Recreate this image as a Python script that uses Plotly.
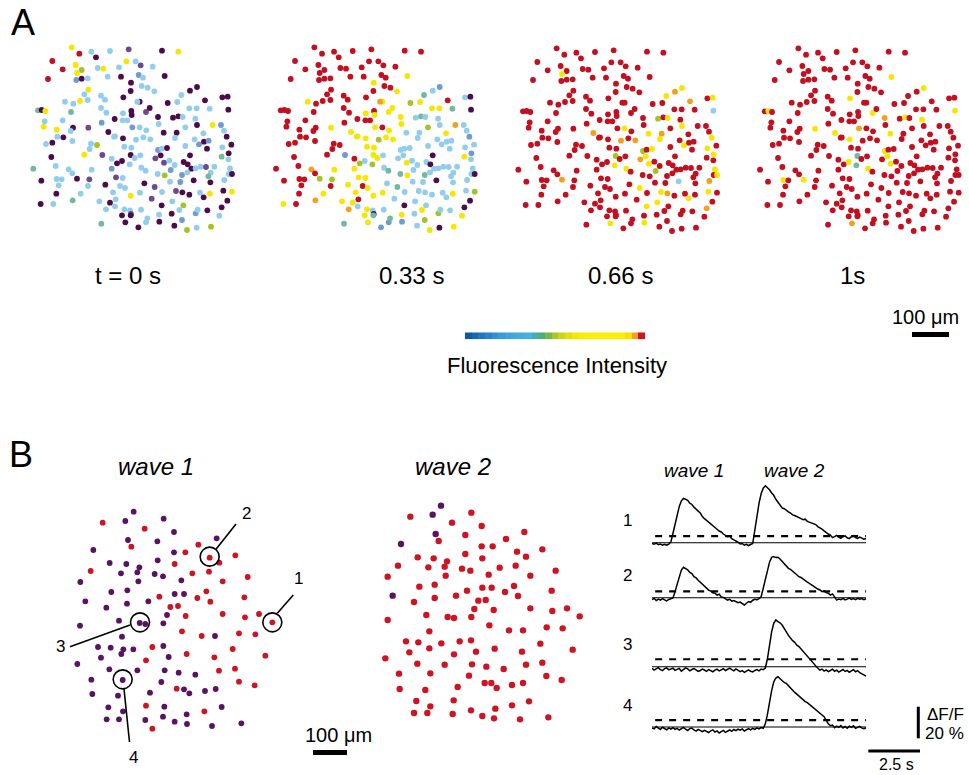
import plotly.graph_objects as go

W, H = 969, 775
FONT = "Liberation Sans, Arial, Helvetica, sans-serif"

# ---------------- Panel A: imaged cells (field coordinates) ----------------
cell_x = [125, 184, 198, 240, 296, 396, 445, 148, 67, 137,
          98, 155, 141, 139, 155, 173, 203, 220, 233, 267,
          289, 317, 332, 368, 54, 273, 326, 339, 404, 303,
          335, 353, 373, 302, 175, 163, 213, 225, 173, 280,
          105, 130, 150, 329, 322, 413, 442, 454, 480, 501,
          525, 577, 593, 24, 35, 46, 123, 213, 229, 254,
          279, 304, 305, 348, 359, 384, 429, 445, 458, 478,
          500, 539, 595, 44, 98, 175, 129, 41, 80, 122,
          215, 235, 255, 278, 292, 307, 329, 349, 386, 401,
          440, 466, 496, 501, 520, 548, 573, 582, 100, 82,
          67, 48, 127, 201, 183, 179, 217, 163, 252, 279,
          283, 304, 318, 340, 361, 384, 395, 411, 435, 466,
          480, 494, 507, 522, 536, 531, 577, 590, 604, 64,
          77, 10, 116, 127, 141, 178, 185, 245, 261, 276,
          302, 314, 331, 299, 245, 258, 278, 334, 347, 383,
          404, 376, 392, 402, 418, 422, 434, 461, 473, 484,
          456, 472, 497, 512, 528, 553, 542, 535, 575, 596,
          595, 600, 596, 606, 34, 80, 95, 86, 174, 226,
          249, 270, 285, 343, 374, 420, 451, 491, 541, 583,
          79, 152, 128, 240, 257, 302, 330, 365, 396, 438,
          457, 478, 510, 521, 540, 580, 606, 592, 32, 70,
          208, 255, 228, 283, 300, 303, 302, 333, 395, 427,
          460, 448, 497, 503, 532, 575, 568, 214, 276, 286,
          325, 348, 352, 387, 388, 425, 433, 456, 471, 500, 543]
cell_y = [22, 35, 52, 33, 28, 32, 35, 41, 63, 75,
          88, 90, 99, 120, 116, 115, 84, 86, 110, 82,
          64, 64, 76, 80, 117, 110, 105, 113, 108, 128,
          138, 143, 154, 153, 149, 163, 167, 179, 180, 172,
          185, 191, 183, 185, 185, 189, 186, 165, 152, 141,
          181, 172, 170, 211, 210, 213, 216, 204, 218, 237,
          220, 213, 225, 216, 204, 231, 233, 229, 231, 205,
          205, 206, 209, 244, 241, 263, 263, 260, 269, 273,
          248, 276, 289, 241, 241, 262, 262, 271, 252, 278,
          278, 262, 236, 255, 280, 255, 255, 272, 292, 290,
          308, 312, 303, 315, 311, 327, 345, 344, 290, 295,
          320, 323, 299, 292, 298, 330, 326, 324, 294, 318,
          346, 298, 313, 305, 302, 326, 322, 290, 314, 351,
          378, 386, 388, 400, 416, 418, 389, 356, 370, 363,
          345, 354, 346, 373, 386, 412, 414, 383, 392, 402,
          406, 355, 346, 368, 362, 390, 375, 366, 373, 386,
          405, 397, 385, 380, 381, 380, 398, 409, 350, 340,
          358, 385, 402, 402, 422, 417, 418, 436, 438, 434,
          457, 438, 444, 430, 441, 425, 426, 421, 427, 420,
          461, 461, 481, 488, 478, 467, 458, 476, 456, 453,
          457, 464, 458, 472, 461, 452, 455, 482, 492, 492,
          484, 499, 508, 508, 511, 522, 526, 509, 496, 484,
          496, 510, 520, 509, 511, 502, 527, 551, 526, 547,
          562, 547, 535, 524, 545, 521, 557, 540, 570, 563, 560]

# fluorescence class of every cell at each time point
state_t0 = ("YLPLVPYRRY" "RGYMPLLYLL" "YLVLRPMLPP" "LLLPYLLLLP" "LLYPLPLLPP"
            "PPPTPYTLLP" "LPPVPPPPLL" "LLPLLVPYYL" "MPLLLMLLLP" "PLLPLYMLPL"
            "PLLGLLVYLP" "LLLLLMLPLL" "PLMPMPLPPP" "LTLLPVLLPP" "PLLLMVLLLL"
            "GVPVLMLPPP" "MLLLVLLTTP" "LLLPPLLLLP" "LLLPVLMPPL" "PLTPLYLVLV"
            "PPLPYPYPPL" "LLLLLVPLPL" "GLMLPPLTPP" "PLLLPPPMGLG")
state_t033 = ("RRRRRRRRRR" "RRRRRRRRRR" "RRRRRRRRYY" "RRYRRRRRRR" "YRRYOGYTLM"
              "RLPRRRRRRR" "YRYYYYLTLY" "YTPRRYRRRR" "RYYRRYRYYL" "LGLLYOLLRR"
              "RRRRRRMRYY" "YYGYYLLLLL" "PLLLLLLMLR" "RRORGGYRGL" "YYLGYYYLTT"
              "YLLYLLLLPL" "TLLLLLLLYM" "LLLPRRRRRY" "YRYLTLLPLL" "RYOYRYYLLL"
              "LLLLYLGPYR" "YLOYLPTLPL" "LYGLLPYTYY" "MMTYMLLGYPY")
state_t066 = ("RRRRRRRRRR" "RRYRRRRRRR" "RRRRRRRRRR" "RRRRRRRRRR" "RRRRRRRYOY"
              "ORYRRRRRRR" "RRRRRRGRYR" "RRLRRRRRRR" "RORRRRYRRY" "ORRYRRRRRR"
              "RRRRRRRRRR" "RROROGRYYR" "RRYRRRYYRR" "RRRRORRRRR" "GRRYRRRYRR"
              "ROYYRGRRRR" "RRRRRRRRRY" "RYRYRRRRRR" "RRRRYRRLRO" "RRRRRRRRRY"
              "ORRYRYRRRR" "RRRRRRRRYY" "RRRRRORRRY" "RRRRYRRRRRR")
state_t1 = ("RRRRRRRRRR" "RRRRRRRRRR" "RRRRRRRRYR" "RRRRRRRRRY" "RRRRRRRRRY"
            "RRRRYRRRRR" "RRRYRORYRR" "RRYRRYRRRR" "RYRRRORRRY" "RRYRRRRRRR"
            "RRRRRRRRRY" "RRRRRYRRRR" "RRRRRRRRRR" "RRRRYRRRRY" "TRRTRRRYRR"
            "RRYYRRRRRR" "RRRRRRRRRR" "RRRRRYRRRR" "RRRRRRRRRR" "RRRRRRRRRR"
            "RRRRRRRRRR" "RRRRRRRRRR" "RRRRRRRRRO" "RRRRRRRRRRR")
time_labels = ["t = 0 s", "0.33 s", "0.66 s", "1s"]

STATE_COLORS = {"R": "#c30f1f", "Y": "#f6e600", "O": "#f0a11c", "G": "#a6c224",
                "T": "#72b9a0", "L": "#92cdee", "M": "#6e9bd2", "P": "#4c0c4c",
                "V": "#6b4b8b"}

# colour scale blocks (low -> high fluorescence)
scale_colors = ["#0c5aa0", "#1a68b0", "#2276bd", "#2a82c8", "#3290d2", "#389bd8",
                "#3ea3dc", "#42a8de", "#45acdf", "#48b0df", "#3fb0b8", "#4cb07a",
                "#78b848", "#a8c828", "#c8d818", "#e0e010", "#f2e800", "#f8ec00",
                "#fcee00", "#fcee00", "#fcee00", "#fcee00", "#fcee00", "#fcee00",
                "#f8e000", "#f0a418", "#d40e2a"]

# ---------------- Panel B: two waves ----------------
wave1_x = [281, 371, 256, 188, 314, 402, 264, 352, 274, 475,
           530, 160, 402, 436, 509, 538, 586, 353, 404, 209,
           259, 298, 292, 243, 152, 344, 369, 457, 507, 623,
           548, 121, 295, 424, 214, 262, 404, 432, 358, 472,
           499, 511, 613, 136, 199, 261, 325, 391, 414, 381,
           437, 548, 615, 657, 697, 237, 299, 316, 370, 120,
           426, 485, 525, 597, 646, 246, 174, 212, 250, 280,
           337, 370, 578, 183, 244, 318, 386, 440, 523, 676,
           112, 208, 292, 374, 416, 466, 537, 585, 248, 154,
           364, 597, 644, 410, 432, 448, 495, 527, 157, 234,
           330, 205, 249, 318, 373, 440, 493, 545, 200, 237,
           316, 369, 404, 441, 516, 604, 337]
wave1_y = [35, 56, 63, 68, 86, 96, 120, 124, 140, 134,
           115, 150, 157, 157, 173, 188, 166, 181, 192, 189,
           192, 202, 217, 220, 213, 222, 229, 220, 215, 231,
           244, 246, 244, 241, 276, 271, 282, 282, 290, 294,
           274, 305, 292, 304, 323, 311, 304, 321, 318, 345,
           348, 342, 352, 342, 367, 362, 369, 372, 370, 377,
           394, 408, 408, 400, 403, 410, 441, 443, 448, 448,
           441, 438, 447, 473, 462, 481, 471, 462, 472, 467,
           492, 508, 511, 511, 518, 524, 512, 506, 540, 539,
           546, 545, 556, 566, 568, 580, 573, 567, 582, 587,
           578, 622, 634, 617, 620, 643, 634, 621, 658, 658,
           660, 650, 665, 672, 678, 670, 686]
wave1_state = ("PPPRRPPPRR" "PPPRRRRPRP" "PPPPRPPRRR" "RPPPPPPPRR" "RRRPPPPRRP"
               "RRRRRPPPPP" "RRPRRPPPPP" "RPRPPRPRRR" "PPPPPPRRPP" "PRRRPPPPPP"
               "PPPRPPRPPP" "PPPPPPR")
circled_x = [697, 509, 300, 248]
circled_y = [367, 170, 367, 538]
circled_labels = ["1", "2", "3", "4"]

wave2_x = [213, 188, 121, 304, 246, 335, 197, 93, 206, 286,
           463, 408, 335, 368, 517, 441, 468, 143, 191, 231,
           224, 84, 175, 286, 337, 276, 301, 389, 437, 557,
           53, 227, 356, 481, 148, 194, 291, 337, 365, 432,
           405, 444, 545, 68, 132, 194, 258, 325, 347, 313,
           371, 481, 547, 591, 629, 53, 169, 233, 252, 304,
           358, 178, 417, 459, 530, 578, 108, 145, 214, 269,
           303, 118, 178, 252, 318, 374, 456, 511, 608, 46,
           142, 224, 306, 349, 401, 468, 517, 87, 181, 297,
           344, 364, 380, 426, 459, 529, 575, 89, 166, 263,
           139, 251, 181, 132, 172, 248, 303, 376, 426, 477,
           337, 372, 450, 535]
wave2_y = [77, 104, 110, 98, 128, 138, 162, 192, 183, 165,
           156, 177, 199, 199, 208, 215, 230, 232, 235, 244,
           260, 257, 262, 222, 235, 266, 272, 263, 257, 272,
           290, 287, 284, 287, 320, 314, 332, 323, 323, 318,
           336, 348, 332, 347, 366, 354, 347, 362, 360, 387,
           390, 385, 393, 385, 409, 420, 405, 411, 414, 411,
           436, 454, 451, 451, 442, 445, 484, 487, 490, 484,
           481, 517, 505, 523, 515, 506, 515, 491, 509, 535,
           551, 554, 553, 560, 567, 554, 548, 581, 580, 587,
           609, 609, 624, 615, 609, 588, 600, 627, 630, 621,
           663, 661, 679, 699, 699, 702, 691, 686, 676, 664,
           708, 715, 718, 712]
wave2_state = ("PPRRRRPPRR" "RRRRRRRRRR" "RRRRRRRRRR" "RRRRRRRRRR" "RRRPRRRRRR"
               "RRRRRRRRRR" "RRRRRRRRRR" "RRRRRRRRRR" "RRRRRRRRRR" "RRRRRRRRRR"
               "RRRRRRRRRR" "RRRR")
B_COLORS = {"R": "#cc1422", "P": "#5a1262"}

# ---------------- Panel B: ΔF/F traces (%), sampled every 0.1 s ----------------
time_s = [round(0.1 * i, 1) for i in range(103)]
trace_1 = [-0.5, -1.0, -0.3, -1.2, -0.8, -1.5, -1.0, -1.6, -0.9,
           0.5, 6, 12, 18, 23, 26.5, 28, 27.5, 26.8, 25, 24.2, 22.5,
           21.5, 20, 18.8, 16.5, 15.2, 14, 12.8, 11.5, 10.5, 9.2,
           8.5, 7.4, 6.8, 5.5, 4.6, 3.8, 4.2, 2.5, 1.8, 1.2,
           0.3, -0.8, -0.5, -1.6, -1.0, -1.8, -1.2, -0.5,
           8, 17, 25, 31, 34.5, 36, 35, 33.5, 31.5, 30, 27.5, 25.5,
           24, 22, 21.5, 20.3, 19.5, 18.8, 17.6, 17.2, 16.4, 16,
           15.2, 14.6, 14.9, 13.5, 13, 12.6, 12.3, 11.5, 10.2, 9.5,
           8.6, 7.5, 6.2, 5.5, 4.8, 3.2, 3.8, 4.6, 3.5, 2.8,
           3.9, 4.3, 3.1, 2.6, 3.8, 4.4, 3.3, 2.7, 3.6, 2.9, 2.2, 2.6]
trace_2 = [-1.2, -0.4, -1.8, -0.9, -1.5, -0.6, -1.4, -2.0, -1.1, -0.7, -0.2,
           4, 9, 14, 17.5, 19.2, 18.5, 17.6, 16, 15.2, 13.3,
           12.5, 11, 9.8, 8.4, 7, 6.1, 4.8, 4.2, 3.1, 2.8,
           1.6, 2.2, 0.5, 0.2, -0.8, -1.5, -1.0, -2.2, -1.8, -2.5,
           -3.2, -2.8, -4.0, -4.6, -3.5, -2.5, -2.9, -1.6, -1.0, -1.3,
           -0.6, 0.5, 6, 12, 18, 22.5, 25.5, 26, 25.4, 25.6,
           24.5, 23, 21.8, 20.2, 18.6, 17.9, 16.5, 15.6, 14.5, 13.3,
           12.8, 11.6, 10.9, 9.8, 9.1, 8.2, 7.0, 6.4, 5.5, 4.9,
           3.8, 4.3, 3.2, 2.8, 1.6, 2.4, 0.2, -1.5, -0.8, -1.2,
           -0.5, -1.4, -0.9, -0.3, -1.1, -0.6, -1.3, -0.4, -1.0, -0.5, -1.2, -0.7]
trace_3 = [-1.0, -2.2, -1.4, -0.6, -1.8, -2.5, -1.2, -0.8, -2.0, -1.5,
           -0.9, -2.3, -1.6, -1.1, -2.8, -1.9, -0.7, -1.4, -2.6, -1.8,
           -1.2, -2.0, -3.0, -2.4, -1.5, -2.1, -2.9, -1.8, -2.5, -3.2,
           -2.2, -1.6, -2.7, -2.0, -1.3, -2.4, -1.7, -0.9, -1.9, -2.6,
           -1.4, -2.2, -3.1, -2.5, -3.6, -2.8, -2.0, -2.9, -3.3, -2.4,
           -1.8, -2.6, -1.5, -1.9, -0.8,
           5, 14, 22, 27.5, 29.6, 28.5, 27.8, 26.4, 24.5, 22,
           19.8, 18, 16.5, 15.4, 13.6, 12.7, 11.2, 10, 8.5, 7.2,
           5.4, 3.6, 2.1, 0.4, -1.0, -2.2, -1.5, -2.8, -2.0, -3.1,
           -2.4, -1.6, -2.9, -2.2, -3.4, -2.6, -1.8, -3.0, -2.3, -3.5,
           -2.7, -1.9, -3.2, -2.5, -3.8, -4.5, -5.2, -6.0]
trace_4 = [-0.5, -1.2, 0.3, -0.8, -1.6, -0.2, -1.0, -1.8, -0.6, -1.3,
           -0.4, -1.5, -0.9, -2.0, -1.1, -0.3, -1.4, -2.2, -1.0, -0.7,
           -1.9, -2.6, -1.5, -2.3, -3.0, -2.1, -2.8, -3.5, -2.4, -1.8,
           -3.2, -2.5, -3.8, -2.9, -2.2, -3.4, -2.6, -1.9, -2.8, -1.6,
           -2.3, -1.4, -2.0, -1.2, -2.5, -1.7, -1.0, -1.8, -0.9, -1.5,
           -0.6, -1.2, -0.4, -0.8, 2.0,
           8, 16, 23, 28.5, 31, 31.8, 30.5, 29.6, 28.2, 27.6,
           26, 24.8, 23.5, 21.9, 20.8, 19.5, 18.6, 17.2, 16.1, 15.4,
           14.3, 13.2, 11.8, 10.8, 9.9, 8.6, 7.5, 6.5, 4.2, 2.0,
           0.8, 1.2, -0.4, 0.6, -0.2, 0.9, -0.6, 0.3, -0.8, 0.5,
           -0.3, 0.7, -0.9, -0.2, 0.4, -0.7, -1.1, -0.5]
traces = [trace_1, trace_2, trace_3, trace_4]
trace_names = ["1", "2", "3", "4"]
thresholds = [4.2, 4.0, 4.7, 4.4]          # dashed threshold level, % ΔF/F
trace_span = [0.0, 10.2]                    # s

# ---------------- layout helpers ----------------
layout = dict(width=W, height=H, autosize=False, showlegend=False,
              margin=dict(l=0, r=0, t=0, b=0),
              paper_bgcolor="white", plot_bgcolor="rgba(0,0,0,0)")


def clamp(v):
    return max(0.0, min(1.0, v))


def add_axes(idx, px_x, px_y, xr, yr):
    xs = "xaxis" if idx == 1 else f"xaxis{idx}"
    ys = "yaxis" if idx == 1 else f"yaxis{idx}"
    layout[xs] = dict(domain=[clamp(px_x[0] / W), clamp(px_x[1] / W)], range=xr,
                      visible=False, fixedrange=True,
                      anchor="y" if idx == 1 else f"y{idx}")
    layout[ys] = dict(domain=[clamp(1 - px_y[1] / H), clamp(1 - px_y[0] / H)], range=yr,
                      visible=False, fixedrange=True,
                      anchor="x" if idx == 1 else f"x{idx}")
    return ("x" if idx == 1 else f"x{idx}"), ("y" if idx == 1 else f"y{idx}")


fig = go.Figure()

# Panel A  (field units -> 1/3 px)
panel_origin = [(30, 40), (272.7, 40), (515, 41), (756.7, 41)]
states = [state_t0, state_t033, state_t066, state_t1]
for k, (st, (x0, y0)) in enumerate(zip(states, panel_origin)):
    xa, ya = add_axes(k + 1, [x0, x0 + 212], [y0, y0 + 200], [0, 636], [600, 0])
    fig.add_trace(go.Scatter(x=cell_x, y=cell_y, mode="markers", xaxis=xa, yaxis=ya,
                             cliponaxis=False, hoverinfo="skip",
                             marker=dict(size=5.8, color=[STATE_COLORS[c] for c in st],
                                         line=dict(width=0))))

# Panel B wave 1
xa, ya = add_axes(5, [40, 300], [500, 730], [0, 780], [690, 0])
fig.add_trace(go.Scatter(x=wave1_x, y=wave1_y, mode="markers", xaxis=xa, yaxis=ya,
                         cliponaxis=False, hoverinfo="skip",
                         marker=dict(size=5.8, color=[B_COLORS[c] for c in wave1_state],
                                     line=dict(width=0))))
fig.add_trace(go.Scatter(x=circled_x, y=circled_y, mode="markers", xaxis=xa, yaxis=ya,
                         cliponaxis=False, hoverinfo="skip",
                         marker=dict(size=19, symbol="circle-open",
                                     color="black", line=dict(width=1.6, color="black"))))

# Panel B wave 2
xa, ya = add_axes(6, [370, 600], [480, 720], [0, 690], [720, 0])
fig.add_trace(go.Scatter(x=wave2_x, y=wave2_y, mode="markers", xaxis=xa, yaxis=ya,
                         cliponaxis=False, hoverinfo="skip",
                         marker=dict(size=6.4, color=[B_COLORS[c] for c in wave2_state],
                                     line=dict(width=0))))

# Traces
baselines_px = [542.7, 597.7, 666.7, 727.0]
px_per_pct = 1.58
for i, (vals, thr, b) in enumerate(zip(traces, thresholds, baselines_px)):
    xa, ya = add_axes(7 + i, [652, 866.7], [b - 50 * px_per_pct, b + 10 * px_per_pct],
                      [0, 10.23], [-10, 50])
    fig.add_trace(go.Scatter(x=trace_span, y=[0, 0], mode="lines", xaxis=xa, yaxis=ya,
                             cliponaxis=False, hoverinfo="skip",
                             line=dict(color="black", width=1.1)))
    fig.add_trace(go.Scatter(x=[0.15, trace_span[1]], y=[thr, thr], mode="lines",
                             xaxis=xa, yaxis=ya, cliponaxis=False, hoverinfo="skip",
                             line=dict(color="black", width=2.2, dash="7px,7px")))
    fig.add_trace(go.Scatter(x=time_s[:len(vals)], y=vals, mode="lines", xaxis=xa, yaxis=ya,
                             cliponaxis=False, hoverinfo="skip",
                             line=dict(color="black", width=1.5)))

# Colour scale bar
xa, ya = add_axes(11, [465, 645], [332.3, 339.3], [-0.5, len(scale_colors) - 0.5], [-0.5, 0.5])
n = len(scale_colors) - 1
fig.add_trace(go.Heatmap(z=[list(range(len(scale_colors)))], xaxis=xa, yaxis=ya,
                         colorscale=[[i / n, c] for i, c in enumerate(scale_colors)],
                         zmin=0, zmax=n, showscale=False, hoverinfo="skip"))

# ---------------- annotations & scale bars ----------------
annotations = []


def txt(s, x, y, size, italic=False):
    annotations.append(dict(text=f"<i>{s}</i>" if italic else s, x=x / W, y=1 - y / H,
                            xref="paper", yref="paper", showarrow=False,
                            xanchor="center", yanchor="middle",
                            font=dict(family=FONT, size=size, color="black")))


txt("A", 22.5, 22, 36)
txt("B", 21, 455, 36)
for lab, cx in zip(time_labels, [127.5, 411.7, 620, 852]):
    txt(lab, cx, 275, 24)
txt("Fluorescence Intensity", 557, 366, 22)
txt("100 μm", 925, 316.7, 20)
txt("100 μm", 338, 735, 20)
txt("wave 1", 156, 466, 24, italic=True)
txt("wave 2", 453, 466.5, 24, italic=True)
for lab, (lx, ly) in zip(circled_labels, [(298.3, 578.3), (246.7, 513.3), (60.7, 646.7), (133, 757)]):
    txt(lab, lx, ly, 17)
for lab, b in zip(trace_names, baselines_px):
    txt(lab, 627, b - 22, 17)
txt("wave 1", 694, 470.8, 19, italic=True)
txt("wave 2", 794.2, 470.8, 19, italic=True)
txt("ΔF/F", 945, 714, 17)
txt("20 %", 944, 733, 17)
txt("2.5 s", 896.7, 764, 16)

shapes = []


def pline(x0, y0, x1, y1, w=1.6):
    shapes.append(dict(type="line", xref="paper", yref="paper",
                       x0=x0 / W, y0=1 - y0 / H, x1=x1 / W, y1=1 - y1 / H,
                       line=dict(color="black", width=w)))


def prect(x0, y0, x1, y1):
    shapes.append(dict(type="rect", xref="paper", yref="paper",
                       x0=x0 / W, y0=1 - y1 / H, x1=x1 / W, y1=1 - y0 / H,
                       fillcolor="black", line=dict(width=0)))


# leader lines to circled cells
pline(277.3, 613.3, 293.3, 595)
pline(216, 549.3, 236, 524)
pline(130, 625, 70, 646.7)
pline(124, 689, 129.5, 742)
# scale bars
prect(912, 332, 949, 337)
prect(313, 750, 347, 755)
prect(916.8, 706.7, 919.8, 738.3)
prect(868.3, 749.5, 920, 752.4)

layout["annotations"] = annotations
layout["shapes"] = shapes
fig.update_layout(**layout)
fig.write_html("out.html",
               config={"displayModeBar": False, "staticPlot": True},
               post_script="document.body.style.margin='0';"
                           "document.body.style.overflow='hidden';")
